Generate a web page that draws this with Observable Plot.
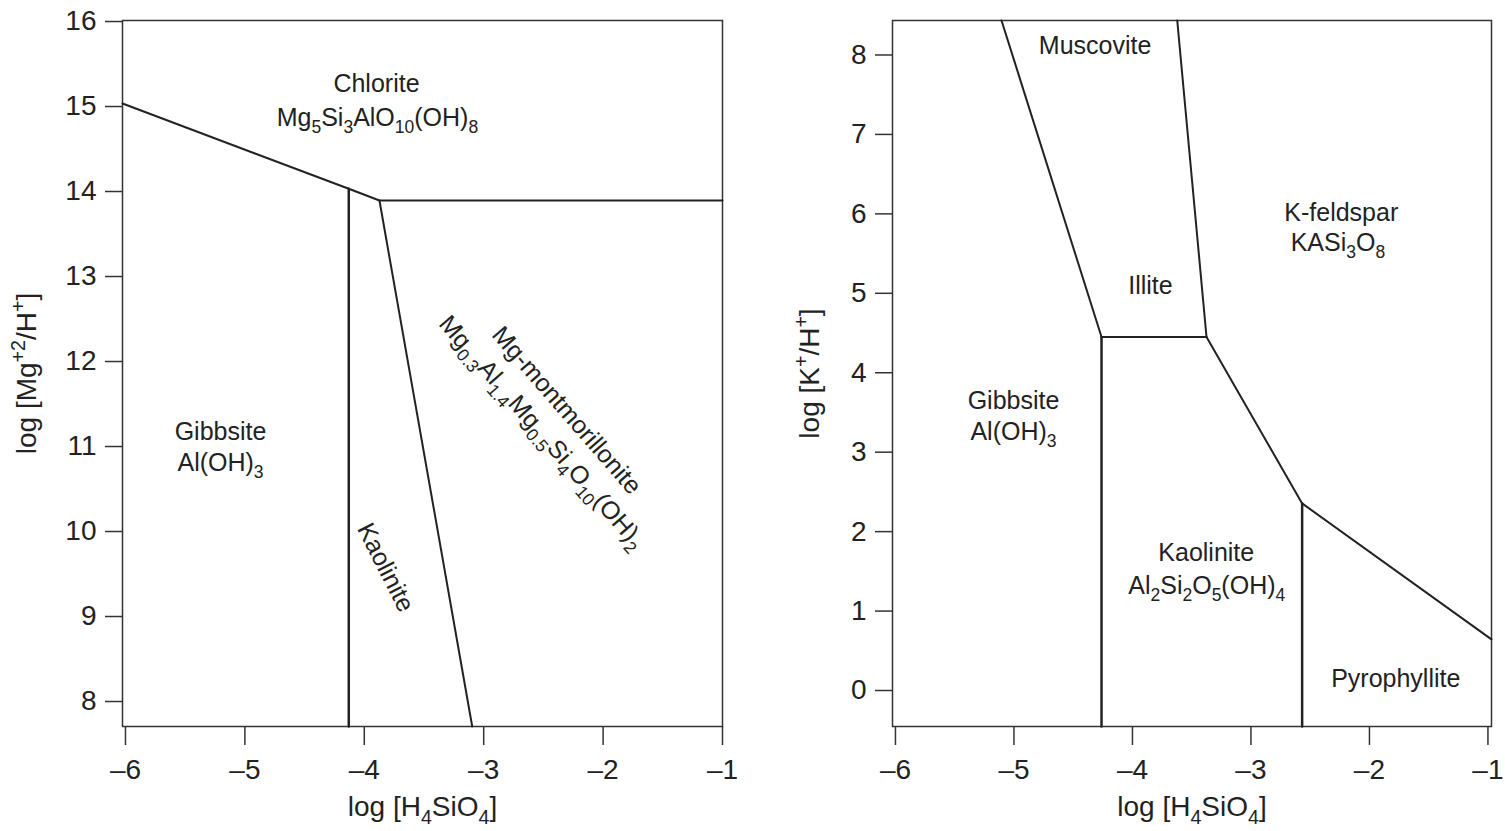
<!DOCTYPE html>
<html><head><meta charset="utf-8">
<script src="https://cdn.jsdelivr.net/npm/d3@7"></script>
<script src="https://cdn.jsdelivr.net/npm/@observablehq/plot@0.6"></script>
<style>
html,body{margin:0;padding:0;background:#fff;overflow:hidden}
#wrap{display:flex;width:1505px;height:831px}
svg{display:block}
</style>
</head><body><div id="wrap"></div>
<script>
// ---------- data ----------
const xTicks = [-6, -5, -4, -3, -2, -1];
const mgTicks = [8, 9, 10, 11, 12, 13, 14, 15, 16];
const kTicks = [0, 1, 2, 3, 4, 5, 6, 7, 8];

const xDomain = [-6.025, -1];
const mgDomain = [7.706, 16.012];
const xDomainR = [-6.025, -0.97];
const kDomain = [-0.453, 8.434];

// Left panel (Mg) phase boundaries, [log H4SiO4, log Mg/H]
const chloriteBoundary = [[-6.025, 15.035], [-4.13, 14.032], [-3.873, 13.894], [-1, 13.894]];
const gibbsiteKaoliniteMg = [[-4.13, 14.032], [-4.13, 7.706]];
const kaoliniteMontmorillonite = [[-3.873, 13.894], [-3.096, 7.706]];

const mgLabelText = ["Chlorite", "Mg_{5}Si_{3}AlO_{10}(OH)_{8}", "Gibbsite", "Al(OH)_{3}"];
const mgLabelX = [-3.898, -3.89, -5.204, -5.204];
const mgLabelY = [15.26, 14.865, 11.17, 10.81];

const kaolRotText = ["Kaolinite"];
const kaolRotX = [-3.822];
const kaolRotY = [9.576];

const montText = ["Mg-montmorillonite", "Mg_{0.3}Al_{1.4}Mg_{0.5}Si_{4}O_{10}(OH)_{2}"];
const montX = [-2.306, -2.512];
const montY = [11.424, 11.168];

// Right panel (K) phase boundaries, [log H4SiO4, log K/H]
const gibbsiteMicaBoundary = [[-5.105, 8.434], [-4.261, 4.45]];
const gibbsiteKaoliniteK = [[-4.261, 4.45], [-4.261, -0.453]];
const illiteKaolinite = [[-4.261, 4.45], [-3.375, 4.45]];
const micaFeldspar = [[-3.622, 8.434], [-3.375, 4.45]];
const kaoliniteFeldspar = [[-3.375, 4.45], [-2.568, 2.355]];
const kaolinitePyrophyllite = [[-2.568, 2.355], [-2.568, -0.453]];
const pyrophylliteFeldspar = [[-2.568, 2.355], [-0.97, 0.644]];

const kLabelText = ["Muscovite", "Illite", "K-feldspar", "KASi_{3}O_{8}", "Gibbsite", "Al(OH)_{3}",
  "Kaolinite", "Al_{2}Si_{2}O_{5}(OH)_{4}", "Pyrophyllite"];
const kLabelX = [-4.315, -3.848, -2.238, -2.266, -5.004, -5.004, -3.377, -3.373, -1.778];
const kLabelY = [8.107, 5.092, 6.006, 5.633, 3.648, 3.252, 1.730, 1.314, 0.151];

const xLabel = "log [H_{4}SiO_{4}]";
const mgLabel = "log [Mg^{+2}/H^{+}]";
const kLabel = "log [K^{+}/H^{+}]";

// ---------- drawing ----------
const FONT = "'Liberation Sans', Arial, Helvetica, sans-serif";
const INK = "#222";
const fmt = d => d < 0 ? "\u2013" + (-d) : String(d);
const px = d => d[0], py = d => d[1];

function boundary(arr, w = 2) {
  return Plot.line(arr, {x: px, y: py, stroke: INK, strokeWidth: w, strokeLinejoin: "miter"});
}

function axes(yTicks, yLabelText, ylabDx) {
  return [
    Plot.frame({stroke: "#333", strokeWidth: 1.5}),
    Plot.axisX(xTicks, {tickSize: 19, tickPadding: 14, tickFormat: fmt, label: null, stroke: "#333", strokeWidth: 1.5, fontSize: 28}),
    Plot.axisY(yTicks, {tickSize: 17, tickPadding: 9, tickFormat: fmt, label: null, stroke: "#333", strokeWidth: 1.5, fontSize: 28}),
    Plot.text([xLabel], {frameAnchor: "bottom", textAnchor: "middle", lineAnchor: "top", dy: 70, text: d => d, fontSize: 28}),
    Plot.text([yLabelText], {frameAnchor: "left", textAnchor: "middle", rotate: -90, lineAnchor: "top", dx: ylabDx, text: d => d, fontSize: 28})
  ];
}

const style = {fontFamily: FONT, fontSize: "28px", color: INK, background: "white", overflow: "visible"};

const left = Plot.plot({
  width: 770, height: 831,
  marginLeft: 122, marginRight: 48, marginTop: 20, marginBottom: 105,
  style,
  x: {domain: xDomain},
  y: {domain: mgDomain},
  marks: [
    ...axes(mgTicks, mgLabel, -106),
    boundary(chloriteBoundary),
    boundary(gibbsiteKaoliniteMg, 2.5),
    boundary(kaoliniteMontmorillonite),
    Plot.text(mgLabelText, {x: (d, i) => mgLabelX[i], y: (d, i) => mgLabelY[i], text: d => d, fontSize: 25}),
    Plot.text(kaolRotText, {x: (d, i) => kaolRotX[i], y: (d, i) => kaolRotY[i], text: d => d, rotate: 63, fontSize: 25}),
    Plot.text(montText, {x: (d, i) => montX[i], y: (d, i) => montY[i], text: d => d, rotate: 49, fontSize: 25})
  ]
});

const right = Plot.plot({
  width: 735, height: 831,
  marginLeft: 122, marginRight: 14, marginTop: 20, marginBottom: 105,
  style,
  x: {domain: xDomainR},
  y: {domain: kDomain},
  marks: [
    ...axes(kTicks, kLabel, -93),
    boundary(gibbsiteMicaBoundary),
    boundary(gibbsiteKaoliniteK, 2.5),
    boundary(illiteKaolinite),
    boundary(micaFeldspar),
    boundary(kaoliniteFeldspar),
    boundary(kaolinitePyrophyllite, 2.5),
    boundary(pyrophylliteFeldspar),
    Plot.text(kLabelText, {x: (d, i) => kLabelX[i], y: (d, i) => kLabelY[i], text: d => d, fontSize: 25})
  ]
});

const wrap = document.getElementById("wrap");
wrap.appendChild(left);
wrap.appendChild(right);

// Turn _{..} and ^{..} markup into real sub/superscript tspans
function richify(root) {
  const NS = "http://www.w3.org/2000/svg";
  root.querySelectorAll("text").forEach(t => {
    const s = t.textContent;
    if (!/[_^]\{/.test(s)) return;
    const fs = parseFloat(getComputedStyle(t).fontSize) || 24;
    while (t.firstChild) t.removeChild(t.firstChild);
    const re = /([_^])\{([^}]*)\}|([^_^]+)/g;
    let m, off = 0;
    while ((m = re.exec(s))) {
      const ts = document.createElementNS(NS, "tspan");
      let target;
      if (m[3] !== undefined) { ts.textContent = m[3]; target = 0; }
      else {
        ts.textContent = m[2];
        ts.setAttribute("font-size", (fs * 0.7).toFixed(2) + "px");
        target = m[1] === "_" ? 0.28 * fs : -0.4 * fs;
      }
      const d = target - off;
      if (d) ts.setAttribute("dy", d.toFixed(2));
      off = target;
      t.appendChild(ts);
    }
  });
}
richify(wrap);
</script>
</body></html>
